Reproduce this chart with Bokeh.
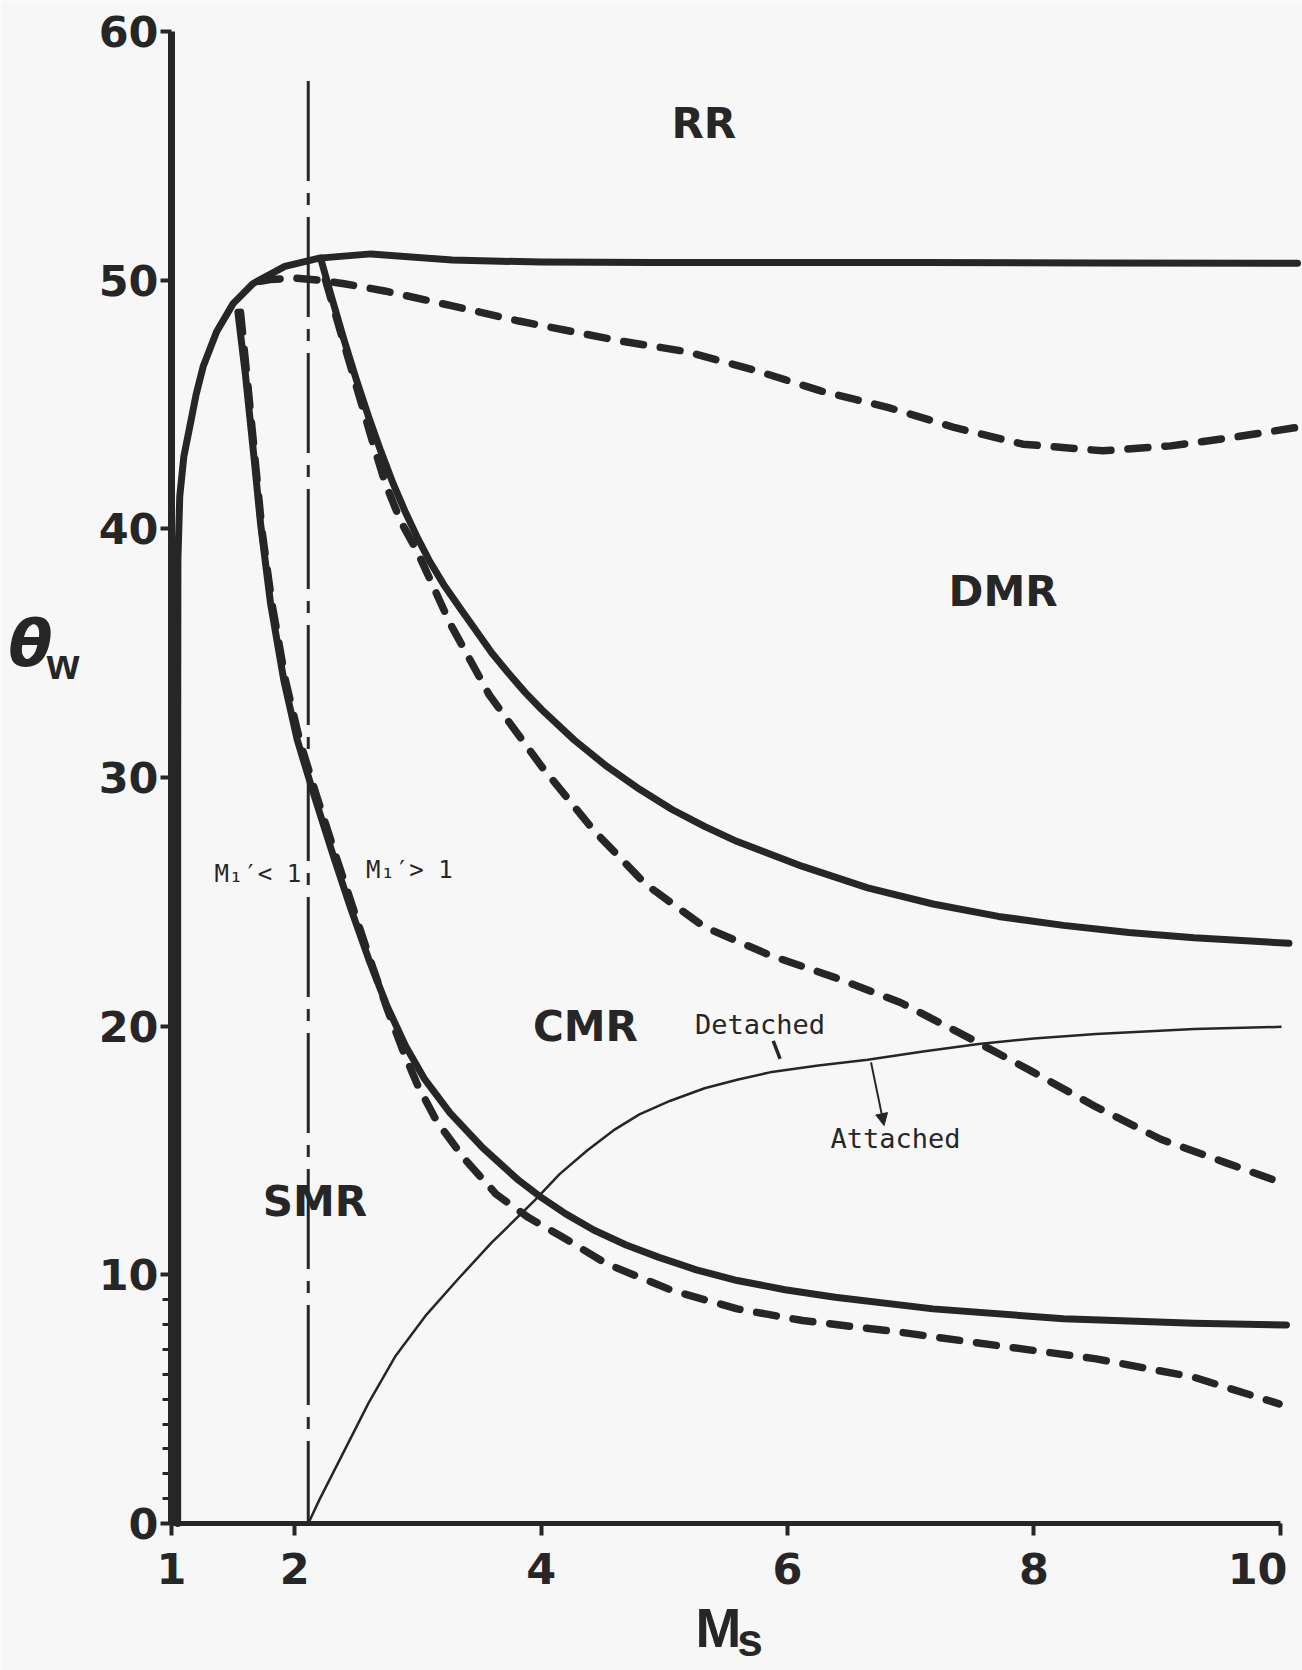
from bokeh.plotting import figure
from bokeh.models import Range1d, FixedTicker, Label, Arrow, NormalHead
from bokeh.embed import file_html
from bokeh.resources import INLINE

# ---------------- data ----------------
# x: shock Mach number Ms, y: wedge angle theta_w (deg)
x_ticks = [1, 2, 4, 6, 8, 10]
x_tick_labels = {10: "10\u00a0"}
y_ticks = [0, 10, 20, 30, 40, 50, 60]
y_minor_ticks = [1, 2, 3, 4, 5, 6, 7, 8, 9]

# RR <-> MR transition (solid)
ms_rr = [1.05, 1.05, 1.052, 1.067, 1.10, 1.149, 1.20, 1.257, 1.366, 1.50, 1.66,
         1.92, 2.20, 2.62, 3.28, 4.0, 4.91, 6.0, 7.09, 8.5, 10.14]
theta_rr = [0.0, 30.0, 38.76, 41.3, 42.9, 44.12, 45.4, 46.52, 47.92, 49.05, 49.85,
            50.55, 50.88, 51.05, 50.8, 50.72, 50.7, 50.7, 50.7, 50.68, 50.67]

# RR <-> MR transition (dashed)
ms_rr_dash = [1.72, 1.80, 2.0, 2.19, 2.40, 2.73, 3.28, 3.82, 4.64, 5.18, 5.73, 6.27,
              6.82, 7.36, 7.91, 8.56, 9.11, 9.60, 10.12]
theta_rr_dash = [49.95, 50.02, 50.08, 50.0, 49.85, 49.56, 48.96, 48.35, 47.55, 47.12,
                 46.38, 45.54, 44.87, 44.06, 43.40, 43.13, 43.33, 43.66, 44.06]

# DMR <-> CMR transition (solid)
ms_dmr = [2.21, 2.30, 2.40, 2.50, 2.60, 2.70, 2.80, 2.90, 3.00, 3.10, 3.21, 3.35,
          3.474, 3.60, 3.739, 3.87, 4.004, 4.27, 4.534, 4.80, 5.063, 5.33, 5.592,
          6.122, 6.651, 7.181, 7.711, 8.24, 8.77, 9.30, 10.07]
theta_dmr = [50.88, 49.3, 47.6, 46.0, 44.5, 43.1, 41.8, 40.65, 39.6, 38.65, 37.75,
             36.75, 35.89, 35.0, 34.17, 33.42, 32.73, 31.5, 30.44, 29.52, 28.71,
             28.02, 27.42, 26.42, 25.56, 24.91, 24.41, 24.05, 23.76, 23.55, 23.33]

# DMR <-> CMR transition (dashed)
ms_dmr_dash = [2.25, 2.32, 2.42, 2.52, 2.62, 2.73, 2.86, 2.998, 3.262, 3.58, 4.004,
               4.43, 4.85, 5.327, 5.857, 6.387, 6.916, 7.446, 7.976, 8.505, 9.03,
               9.56, 10.04]
theta_dmr_dash = [50.0, 48.8, 47.1, 45.4, 43.7, 41.9, 40.3, 39.05, 36.18, 33.31,
                  30.44, 27.85, 25.7, 23.98, 22.85, 21.95, 20.95, 19.6, 18.2, 16.75,
                  15.45, 14.5, 13.65]

# CMR <-> SMR transition (solid)
ms_cmr = [1.539, 1.60, 1.669, 1.723, 1.804, 1.912, 2.021, 2.156, 2.31, 2.45, 2.60,
          2.75, 2.90, 3.05, 3.262, 3.527, 3.818, 4.004, 4.20, 4.427, 4.69, 4.957,
          5.26, 5.592, 5.98, 6.387, 7.181, 8.24, 9.30, 10.05]
theta_cmr = [48.7, 46.2, 42.9, 40.2, 37.0, 33.9, 31.5, 29.3, 26.9, 24.8, 22.7, 20.8,
             19.2, 17.9, 16.5, 15.1, 13.8, 13.1, 12.45, 11.8, 11.2, 10.7, 10.2, 9.77,
             9.4, 9.1, 8.63, 8.23, 8.05, 7.98]

# CMR <-> SMR transition (dashed)
ms_cmr_dash = [1.56, 1.625, 1.68, 1.735, 1.815, 1.925, 2.04, 2.175, 2.33, 2.47, 2.61,
               2.75, 2.88, 3.00, 3.15, 3.368, 3.633, 3.898, 4.162, 4.533, 5.063, 5.592,
               6.122, 6.916, 7.711, 8.505, 9.30, 9.99]
theta_cmr_dash = [48.7, 45.5, 42.7, 39.9, 37.0, 33.9, 31.5, 29.3, 26.9, 24.8, 22.7,
                  20.7, 19.0, 17.6, 16.2, 14.72, 13.25, 12.3, 11.55, 10.44, 9.37, 8.63,
                  8.16, 7.69, 7.15, 6.62, 5.88, 4.81]

# detached / attached boundary (thin)
ms_att = [2.11, 2.2, 2.4, 2.6, 2.82, 3.07, 3.33, 3.6, 3.95, 4.15, 4.374, 4.6, 4.798,
          5.05, 5.327, 5.6, 5.857, 6.25, 6.651, 7.1, 7.552, 8.0, 8.505, 9.3, 10.01]
theta_att = [0.0, 0.95, 2.9, 4.85, 6.75, 8.4, 9.85, 11.3, 13.0, 14.05, 15.0, 15.85,
             16.45, 17.0, 17.5, 17.85, 18.14, 18.42, 18.65, 18.98, 19.28, 19.5, 19.68,
             19.88, 19.97]

# M1' = 1 line (dash-dot)
ms_sonic = [2.11, 2.11]
theta_sonic = [58.0, 0.0]

# pointers for "Detached" / "Attached"
detached_tick_ms = [5.884, 5.94]
detached_tick_theta = [19.41, 18.68]
attached_arrow_ms = [6.678, 6.784]
attached_arrow_theta = [18.54, 16.0]

region_names = ["RR", "DMR", "CMR", "SMR"]
region_ms = [5.32, 7.75, 4.36, 2.164]
region_theta = [56.29, 37.47, 19.98, 12.93]

# ---------------- figure ----------------
INK = "#262626"
PAPER = "#f7f7f7"

W, H = 1302, 1670
X0_PX, X_PX_PER_UNIT = 171.0, 123.2     # position of Ms = 1 and scale
Y0_PX, Y_PX_PER_UNIT = 1523.0, 24.87    # position of theta = 0 and scale

x_lo = 1 - X0_PX / X_PX_PER_UNIT
x_hi = 1 + (W - X0_PX) / X_PX_PER_UNIT
y_lo = -(H - Y0_PX) / Y_PX_PER_UNIT
y_hi = Y0_PX / Y_PX_PER_UNIT

p = figure(width=W, height=H,
           x_range=Range1d(x_lo, x_hi), y_range=Range1d(y_lo, y_hi),
           min_border=0,
           background_fill_color=PAPER, border_fill_color=PAPER,
           output_backend="svg", toolbar_location=None)
p.outline_line_color = None
p.grid.visible = False

xa = p.xaxis[0]
xa.fixed_location = 0
xa.ticker = FixedTicker(ticks=x_ticks)
xa.bounds = (1, 10)
xa.major_label_overrides = x_tick_labels
xa.axis_line_width = 5
xa.axis_line_color = INK
xa.major_tick_line_width = 4
xa.major_tick_line_color = INK
xa.major_tick_out = 12
xa.major_tick_in = 0
xa.minor_tick_line_color = None
xa.major_label_standoff = 8
xa.major_label_text_font = "DejaVu Sans"
xa.major_label_text_font_style = "bold"
xa.major_label_text_font_size = "43px"
xa.major_label_text_color = INK

ya = p.yaxis[0]
ya.fixed_location = 1
ya.ticker = FixedTicker(ticks=y_ticks, minor_ticks=y_minor_ticks)
ya.bounds = (0, 60)
ya.axis_line_width = 7
ya.axis_line_color = INK
ya.major_tick_line_width = 4
ya.major_tick_line_color = INK
ya.major_tick_out = 11
ya.major_tick_in = 0
ya.minor_tick_line_width = 3
ya.minor_tick_line_color = INK
ya.minor_tick_out = 9
ya.minor_tick_in = 0
ya.major_label_standoff = 2
ya.major_label_text_font = "DejaVu Sans"
ya.major_label_text_font_style = "bold"
ya.major_label_text_font_size = "43px"
ya.major_label_text_color = INK

# ---------------- curves ----------------
solid = dict(line_color=INK, line_width=7, line_cap="round", line_join="round")
dashed = dict(line_color=INK, line_width=7.5, line_dash="20 17", line_cap="round",
              line_join="round")

p.line(ms_sonic, theta_sonic, line_color=INK, line_width=3, line_dash="100 12 12 12")
p.line(ms_att, theta_att, line_color=INK, line_width=2.5, line_join="round")
p.line(ms_rr_dash, theta_rr_dash, **dashed)
p.line(ms_dmr_dash, theta_dmr_dash, **dashed)
p.line(ms_cmr_dash, theta_cmr_dash, **dashed)
p.line(ms_rr, theta_rr, **solid)
p.line(ms_dmr, theta_dmr, **solid)
p.line(ms_cmr, theta_cmr, **solid)

p.segment(x0=[detached_tick_ms[0]], y0=[detached_tick_theta[0]],
          x1=[detached_tick_ms[1]], y1=[detached_tick_theta[1]],
          line_color=INK, line_width=3.5)
p.add_layout(Arrow(end=NormalHead(size=12, fill_color=INK, line_color=INK, line_width=1),
                   x_start=attached_arrow_ms[0], y_start=attached_arrow_theta[0],
                   x_end=attached_arrow_ms[1], y_end=attached_arrow_theta[1],
                   line_color=INK, line_width=2))

# ---------------- texts ----------------
def add_label(x, y, text, font, size, style="normal"):
    p.add_layout(Label(x=x, y=y, text=text, text_font=font,
                       text_font_size=f"{size}px", text_font_style=style,
                       text_color=INK, text_align="center", text_baseline="middle"))

for name, xm, yt in zip(region_names, region_ms, region_theta):
    add_label(xm, yt, name, "DejaVu Sans", 42, "bold")

add_label(1.70, 26.11, "M\u2081\u2032< 1", "DejaVu Sans Mono", 24)
add_label(2.93, 26.27, "M\u2081\u2032> 1", "DejaVu Sans Mono", 24)
add_label(5.777, 20.06, "Detached", "DejaVu Sans Mono", 27)
add_label(6.876, 15.47, "Attached", "DejaVu Sans Mono", 27)

# axis titles
add_label(-0.145, 35.35, "\u03b8", "DejaVu Sans", 64, "bold italic")
add_label(0.119, 34.55, "w", "Liberation Sans", 42, "bold")
add_label(5.44, -4.22, "M", "Liberation Sans", 55, "bold")
add_label(5.695, -4.70, "s", "Liberation Sans", 46, "bold")

open("out.html", "w").write(file_html(p, INLINE))
